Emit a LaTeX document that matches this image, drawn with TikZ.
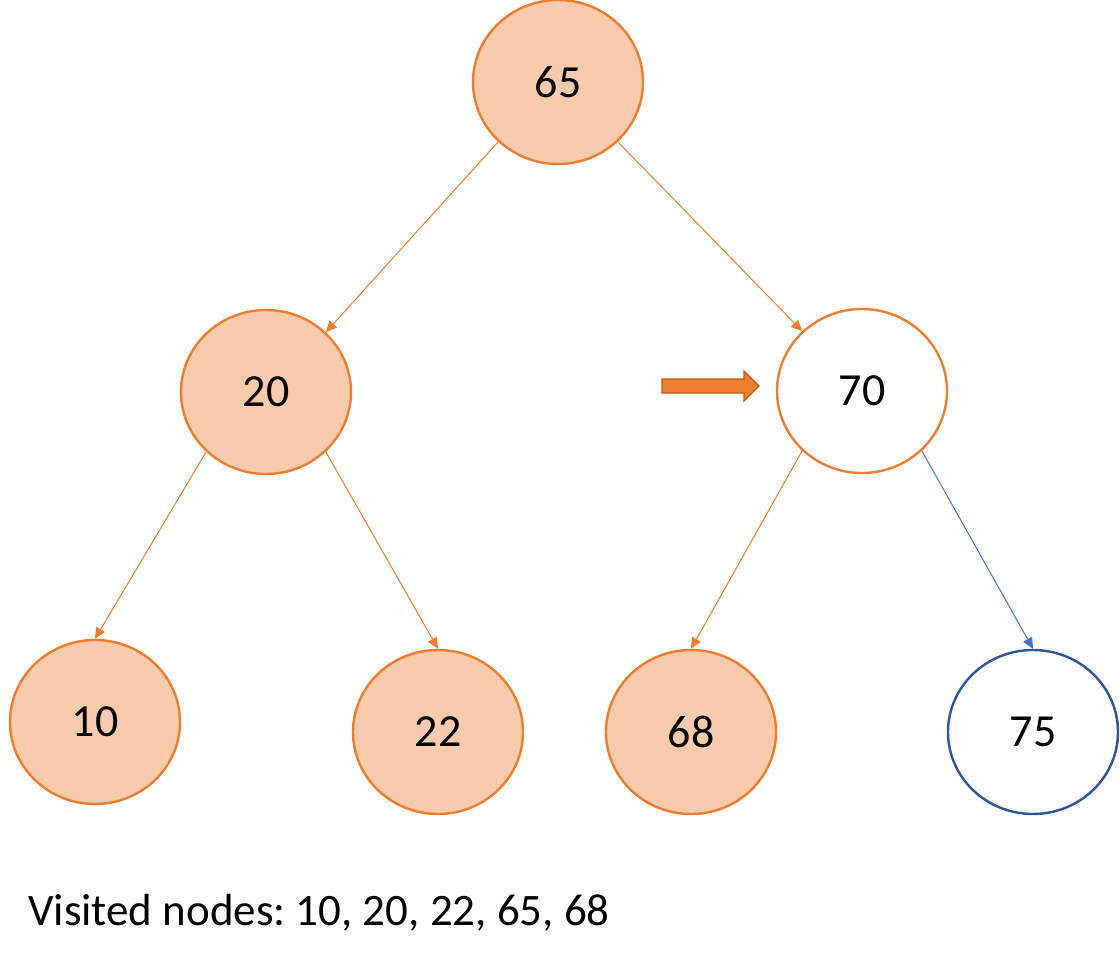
\documentclass[tikz,border=0pt]{standalone}
\usepackage{fontspec}
\setmainfont{Carlito}
\usetikzlibrary{shapes.geometric,arrows.meta}

\definecolor{peach}{HTML}{F8CBAD}
\definecolor{orangeline}{HTML}{ED7D31}
\definecolor{orangedark}{HTML}{C55A11}
\definecolor{blueline}{HTML}{2F5597}
\definecolor{bluearrow}{HTML}{4472C4}

\tikzset{
  treenode/.style={ellipse, draw=orangeline, line width=2.4pt, minimum width=170pt, minimum height=164pt, inner sep=0pt, font=\fontsize{46}{50}\selectfont},
  visited/.style={treenode, fill=peach},
  edge/.style={orangeline, line width=1pt, -{Triangle[length=11pt,width=10pt]}},
}

\begin{document}
\begin{tikzpicture}[x=1pt,y=-1pt]
				\useasboundingbox (0,0) rectangle (1120,960);
				
				% Nodes
				\node[visited] (n65) at (558, 82) {65};
				\node[visited] (n20) at (266, 392) {20};
				\node[treenode, fill=white] (n70) at (862, 391) {70};
				
				\node[visited] (n10) at (95, 722) {10};
				\node[visited] (n22) at (438, 732) {22};
				\node[visited] (n68) at (691, 732) {68};
				\node[treenode, draw=blueline, fill=white] (n75) at (1033, 732) {75};
				
				% Edges
				\draw[edge] (n65.-135) -- (n20.45);
				\draw[edge] (n65.-45) -- (n70.135);
				\draw[edge] (n20.-135) -- (n10.north);
				\draw[edge] (n20.-45) -- (n22.north);
				\draw[edge] (n70.-135) -- (n68.north);
				\draw[edge, bluearrow] (n70.-45) -- (n75.north); % next node
				
				% Current pointer
				\draw[orangedark, fill=orangeline, line width=1.2pt] (662,379) -- (744,379) -- (744,371) -- (759,386) -- (744,401) -- (744,393) -- (662,393) -- cycle;
				
				% Visited list
				\node[anchor=base west, inner sep=0pt, font=\fontsize{45}{50}\selectfont] (list) at (28, 925) {Visited nodes:~10, 20, 22, 65, 68};
			\end{tikzpicture}
\end{document}
